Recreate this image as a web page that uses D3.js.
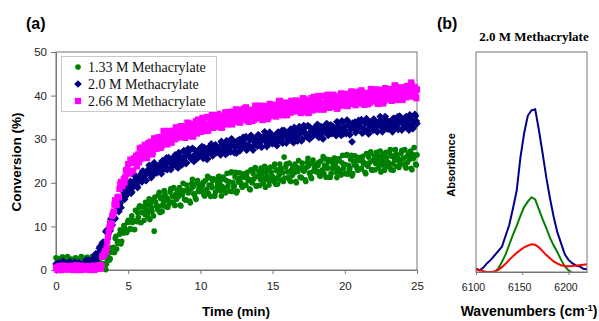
<!DOCTYPE html>
<html>
<head>
<meta charset="utf-8">
<script src="https://cdn.jsdelivr.net/npm/d3@7"></script>
<style>
  body { margin: 0; background: #fff; }
  svg { display: block; font-family: 'Liberation Sans', Arial, sans-serif; }
</style>
</head>
<body>
<div id="chart"></div>
<script>
// panel (a): conversion vs time, one reading every 0.1 min from 0 to 25 min
const timeStep = 0.1;
const conv133 = [
  2.8, 1.3, 0.9, 2.1, 2.5, 1.7, 0.7, 2.3, 3.1, 1.2,
  1.0, 2.1, 1.8, 0.5, 2.7, 2.3, 1.5, 0.8, 2.9, 1.9,
  2.4, 1.6, 2.6, 1.0, 1.4, 3.1, 2.1, 0.8, 1.7, 2.7,
  0.5, 1.6, 0.9, 1.4, 0.3, 1.4, 3.0, 2.3, 4.1, 4.2,
  5.2, 7.3, 4.8, 6.1, 8.2, 6.0, 8.8, 10.2, 9.0, 8.6,
  11.4, 9.3, 11.4, 10.9, 9.3, 13.7, 11.1, 12.1, 14.7, 10.9,
  13.3, 11.4, 15.5, 14.9, 13.2, 11.6, 14.3, 16.1, 8.9, 15.6,
  14.7, 17.2, 13.2, 14.7, 16.7, 18.2, 14.5, 16.4, 15.8, 17.9,
  18.6, 15.6, 14.9, 17.4, 18.3, 16.9, 14.9, 18.2, 19.9, 16.2,
  16.1, 18.4, 17.8, 15.4, 19.8, 19.1, 17.5, 16.2, 20.5, 18.7,
  19.6, 18.2, 20.1, 17.0, 18.0, 21.5, 19.5, 16.9, 18.9, 20.9,
  17.0, 20.7, 19.7, 21.5, 18.2, 19.2, 21.3, 18.2, 20.5, 19.2,
  20.2, 22.3, 18.0, 19.1, 21.4, 17.7, 20.9, 22.3, 20.0, 19.0,
  22.0, 19.4, 21.4, 20.6, 18.6, 23.0, 20.0, 20.9, 23.5, 19.2,
  21.5, 19.4, 23.4, 22.6, 20.7, 19.0, 21.5, 23.2, 20.5, 22.4,
  21.4, 23.7, 19.7, 21.0, 23.0, 24.3, 20.6, 22.3, 25.9, 23.6,
  24.3, 21.2, 20.5, 22.9, 23.8, 22.3, 20.3, 23.5, 25.1, 21.3,
  21.2, 23.4, 22.8, 20.3, 24.7, 23.9, 22.3, 21.0, 25.2, 23.4,
  24.2, 22.7, 24.7, 21.5, 22.5, 26.0, 24.0, 21.3, 23.3, 25.3,
  21.3, 24.9, 24.0, 25.7, 22.4, 23.4, 25.5, 22.3, 24.6, 23.3,
  24.2, 26.3, 22.0, 23.0, 25.4, 21.6, 24.9, 26.2, 23.9, 22.9,
  25.8, 23.2, 25.2, 24.3, 22.4, 26.7, 23.8, 24.6, 27.1, 22.9,
  25.1, 23.0, 27.0, 26.1, 24.2, 22.5, 25.0, 26.6, 23.9, 25.8,
  24.7, 27.0, 23.0, 24.3, 26.2, 27.6, 23.8, 25.5, 24.9, 26.8,
  27.4, 24.3, 23.6, 26.0, 26.8, 25.4, 23.3, 26.5, 28.1, 24.3,
  26.4
];
const conv20 = [
  1.4, 0.9, 1.6, 0.4, 0.7, 2.0, 1.2, 0.3, 1.0, 1.7,
  0.2, 1.5, 1.2, 1.8, 0.6, 0.9, 1.6, 0.5, 1.3, 0.8,
  1.3, 2.3, 0.6, 1.1, 2.1, 0.6, 2.3, 3.3, 2.9, 2.9,
  5.0, 4.4, 6.2, 6.4, 6.2, 9.1, 8.4, 9.6, 11.7, 10.3,
  12.2, 11.8, 14.8, 15.0, 14.7, 14.3, 16.4, 17.9, 16.8, 18.4,
  18.1, 20.0, 17.6, 18.9, 20.4, 21.5, 19.4, 20.8, 20.5, 22.1,
  22.7, 20.9, 20.6, 22.4, 23.1, 22.3, 21.2, 23.4, 24.6, 22.3,
  22.3, 23.9, 23.6, 22.1, 25.1, 24.6, 23.6, 23.0, 25.8, 24.7,
  25.4, 24.5, 25.9, 23.9, 24.6, 26.9, 25.8, 24.1, 25.5, 26.9,
  24.4, 26.8, 26.3, 27.5, 25.4, 26.1, 27.5, 25.4, 27.0, 26.2,
  26.9, 28.3, 25.6, 26.3, 27.8, 25.5, 27.7, 28.5, 27.1, 26.5,
  28.5, 26.9, 28.1, 27.6, 26.4, 29.2, 27.4, 28.0, 29.6, 26.9,
  28.5, 27.1, 29.9, 29.3, 28.1, 26.8, 28.7, 29.9, 27.9, 29.4,
  28.7, 30.3, 27.5, 28.5, 29.9, 30.9, 28.2, 29.5, 29.1, 30.5,
  31.0, 28.9, 28.3, 30.1, 30.7, 29.7, 28.3, 30.6, 31.6, 29.1,
  29.0, 30.7, 30.2, 28.5, 31.6, 31.1, 30.0, 29.1, 32.0, 30.8,
  31.5, 30.5, 31.9, 29.7, 30.3, 32.7, 31.4, 29.6, 31.0, 32.4,
  29.6, 32.3, 31.6, 32.9, 30.5, 31.3, 32.7, 30.5, 32.2, 31.3,
  31.9, 33.4, 30.4, 31.1, 32.8, 30.1, 32.5, 33.4, 31.8, 31.1,
  33.2, 31.3, 32.8, 32.1, 30.8, 33.9, 31.7, 32.4, 34.2, 31.2,
  32.8, 31.3, 34.2, 33.5, 32.2, 29.4, 32.8, 33.9, 32.0, 33.4,
  32.6, 34.2, 31.4, 32.3, 33.7, 34.7, 32.0, 33.2, 32.8, 34.2,
  34.6, 32.4, 31.9, 33.6, 34.2, 33.2, 31.7, 34.0, 35.2, 32.5,
  32.3, 33.9, 33.5, 31.7, 34.8, 34.3, 33.1, 32.2, 35.3, 33.9,
  34.5, 33.4, 34.9, 32.6, 33.2, 35.6, 34.3, 32.4, 33.9, 35.3,
  33.6
];
const conv266 = [
  0.4, 0.0, 0.8, 0.2, 0.6, 1.0, 0.1, 0.5, 0.3, 0.9,
  0.2, 0.7, 0.0, 0.5, 1.1, 0.3, 0.6, 0.0, 0.8, 0.4,
  0.1, 0.9, 0.3, 0.6, 0.0, 0.7, 1.0, 0.2, 0.5, 0.8,
  0.7, 0.3, 3.0, 3.5, 4.3, 5.0, 7.6, 9.7, 10.0, 12.4,
  13.4, 16.0, 14.9, 16.6, 18.6, 20.2, 19.3, 20.9, 21.3, 23.0,
  24.3, 22.6, 22.5, 24.6, 25.6, 24.9, 23.8, 26.5, 27.9, 25.6,
  25.7, 27.5, 27.3, 25.7, 29.1, 28.7, 27.7, 27.0, 30.2, 29.0,
  29.8, 28.9, 30.5, 28.4, 29.2, 31.9, 30.5, 28.8, 30.3, 31.9,
  29.2, 31.9, 31.3, 32.7, 30.4, 31.2, 32.7, 30.5, 32.4, 31.5,
  32.2, 33.8, 30.8, 31.6, 33.3, 30.7, 33.1, 34.1, 32.6, 31.9,
  34.1, 32.3, 33.8, 33.2, 31.9, 35.1, 33.0, 33.7, 35.6, 32.6,
  34.3, 32.9, 35.8, 35.1, 33.9, 32.7, 34.6, 35.8, 33.8, 35.3,
  34.6, 36.3, 33.4, 34.4, 35.9, 36.8, 34.2, 35.5, 35.0, 36.5,
  37.0, 34.8, 34.3, 36.0, 36.7, 35.6, 34.2, 36.5, 37.7, 35.0,
  34.9, 36.6, 36.1, 34.4, 37.5, 37.0, 35.9, 35.0, 38.1, 36.7,
  37.4, 36.4, 37.8, 35.6, 36.2, 38.8, 37.3, 35.5, 36.9, 38.4,
  35.5, 38.2, 37.5, 38.8, 36.4, 37.2, 38.6, 36.4, 38.1, 37.2,
  37.8, 39.4, 36.3, 37.1, 38.7, 36.1, 38.4, 39.4, 37.8, 37.1,
  39.2, 37.3, 38.8, 38.1, 36.8, 39.9, 37.8, 38.4, 40.2, 37.2,
  38.8, 37.4, 40.2, 39.6, 38.3, 37.1, 38.9, 40.1, 38.1, 39.6,
  38.8, 40.4, 37.6, 38.5, 40.0, 40.9, 38.2, 39.5, 39.0, 40.5,
  40.9, 38.7, 38.2, 39.9, 40.6, 39.5, 38.0, 40.4, 41.5, 38.9,
  38.7, 40.3, 39.9, 38.1, 41.3, 40.7, 39.5, 38.7, 41.7, 40.4,
  41.0, 39.9, 41.4, 39.1, 39.8, 42.3, 40.8, 39.0, 40.4, 41.9,
  39.0, 41.6, 41.0, 42.2, 39.9, 40.6, 43.0, 39.8, 41.5, 40.6,
  41.4
];
// readings taken half a step later (0.05, 0.15, ... 24.95 min)
const conv133Mid = [
  1.5, 2.6, 0.9, 2.0, 3.0, 1.2, 2.4, 1.7, 0.7, 2.2,
  2.5, 1.1, 1.9, 2.8, 0.6, 2.2, 1.4, 3.1, 1.8, 1.0,
  1.9, 2.9, 1.3, 0.8, 2.5, 1.6, 2.0, 2.7, 1.2, 2.3,
  0.7, 0.8, 1.4, 1.0, 0.1, 2.4, 2.3, 2.6, 5.1, 4.8,
  4.0, 7.7, 6.5, 6.5, 9.2, 6.6, 8.5, 9.6, 8.6, 10.9,
  11.0, 9.5, 12.4, 11.3, 9.3, 11.3, 13.2, 14.4, 10.9, 13.2,
  14.5, 12.8, 13.8, 12.3, 16.3, 15.2, 13.5, 12.4, 16.7, 14.6,
  13.8, 17.8, 16.4, 13.4, 15.6, 17.3, 16.6, 14.4, 15.3, 18.6,
  16.9, 18.9, 14.8, 16.2, 18.0, 18.9, 14.7, 17.3, 18.2, 16.1,
  19.5, 17.7, 15.8, 18.6, 20.8, 17.4, 16.5, 19.8, 18.0, 19.6,
  18.0, 19.4, 17.2, 20.5, 18.5, 17.6, 21.1, 19.4, 20.5, 17.0,
  17.9, 19.0, 21.4, 20.2, 17.0, 20.9, 18.7, 17.7, 22.2, 20.2,
  18.1, 22.5, 20.1, 19.3, 22.4, 18.1, 20.2, 21.1, 19.3, 22.0,
  21.3, 19.5, 22.4, 20.8, 18.4, 20.2, 22.2, 23.2, 19.3, 21.5,
  22.6, 20.8, 21.6, 19.9, 23.8, 22.5, 20.7, 19.5, 23.6, 21.4,
  20.4, 24.3, 22.8, 19.7, 21.8, 23.4, 22.6, 20.3, 21.1, 24.3,
  22.5, 24.5, 20.3, 21.7, 23.4, 24.3, 20.0, 22.6, 23.3, 21.2,
  24.5, 22.7, 20.7, 23.5, 25.6, 22.2, 21.3, 24.5, 22.7, 24.2,
  22.5, 24.0, 21.7, 25.0, 23.0, 22.1, 25.5, 23.8, 24.9, 21.3,
  22.1, 23.3, 25.6, 24.4, 21.2, 25.1, 22.8, 21.8, 26.3, 24.2,
  22.1, 26.5, 24.0, 23.3, 26.3, 22.1, 24.1, 25.0, 23.2, 25.8,
  25.1, 23.3, 26.1, 24.6, 22.1, 24.0, 25.9, 26.8, 23.0, 25.1,
  26.2, 24.4, 25.1, 23.4, 27.3, 26.0, 24.1, 22.9, 27.0, 24.7,
  23.7, 27.6, 26.1, 22.9, 25.1, 26.6, 25.8, 23.5, 24.3, 27.4,
  25.6, 27.6, 23.4, 24.7, 26.5, 27.3, 23.0, 25.6, 26.3, 24.1
];
const conv20Mid = [
  0.6, 1.5, 1.1, 0.3, 1.8, 0.9, 0.5, 1.4, 0.7, 1.9,
  1.2, 0.4, 1.7, 1.0, 0.5, 1.6, 0.8, 1.3, 0.2, 1.1,
  1.6, 0.9, 2.2, 1.7, 0.7, 1.6, 2.8, 3.7, 2.5, 4.0,
  5.4, 5.2, 6.3, 6.2, 8.8, 9.0, 8.8, 9.0, 11.8, 11.5,
  11.7, 14.6, 14.5, 13.4, 15.3, 16.8, 16.9, 16.2, 17.1, 19.3,
  18.7, 20.3, 17.9, 19.1, 20.5, 21.4, 18.9, 20.7, 21.5, 20.2,
  22.6, 21.6, 20.5, 22.5, 24.0, 22.0, 21.6, 23.9, 22.8, 23.9,
  23.0, 24.1, 22.6, 25.0, 23.8, 23.2, 25.7, 24.7, 25.5, 23.0,
  23.8, 24.7, 26.4, 25.6, 23.4, 26.2, 24.8, 24.2, 27.4, 26.0,
  24.6, 27.8, 26.1, 25.6, 27.9, 24.9, 26.3, 27.1, 25.8, 27.8,
  27.4, 26.1, 28.1, 27.1, 25.4, 26.8, 28.1, 28.9, 26.2, 27.8,
  28.7, 27.3, 27.9, 26.8, 29.5, 28.7, 27.4, 26.5, 29.5, 28.0,
  27.4, 30.1, 29.1, 26.9, 28.4, 29.6, 29.1, 27.4, 28.1, 30.4,
  29.1, 30.6, 27.7, 28.6, 29.9, 30.5, 27.5, 29.4, 29.9, 28.4,
  30.9, 29.5, 28.2, 30.1, 31.7, 29.3, 28.7, 31.1, 29.7, 30.9,
  29.8, 30.8, 29.2, 31.5, 30.2, 29.6, 32.0, 30.9, 31.6, 29.1,
  29.8, 30.6, 32.3, 31.4, 29.2, 31.9, 30.4, 29.7, 32.9, 31.4,
  30.0, 33.1, 31.4, 30.8, 33.1, 30.0, 31.5, 32.2, 30.9, 32.8,
  32.3, 31.0, 33.0, 32.0, 30.2, 31.6, 32.9, 33.6, 30.9, 32.4,
  33.2, 31.9, 32.4, 31.3, 34.0, 33.1, 31.8, 30.9, 33.9, 32.3,
  31.6, 34.4, 33.3, 31.0, 32.6, 33.7, 33.1, 31.5, 32.1, 34.3,
  33.0, 34.5, 31.5, 32.4, 33.7, 34.3, 31.2, 33.1, 33.6, 32.0,
  34.4, 33.1, 31.7, 33.6, 35.2, 32.7, 32.1, 34.5, 33.1, 34.2,
  33.0, 34.1, 32.4, 34.7, 33.4, 32.7, 35.1, 34.0, 34.7, 32.1,
  32.7, 33.6, 35.2, 34.3, 32.1, 34.8, 33.2, 32.6, 35.7, 34.2
];
const conv266Mid = [
  0.6, 0.2, 0.9, 0.0, 0.4, 0.7, 0.3, 0.8, 0.1, 0.5,
  0.9, 0.1, 0.6, 0.3, 0.8, 0.0, 0.4, 1.0, 0.2, 0.7,
  0.5, 0.3, 0.8, 0.1, 0.6, 0.4, 0.0, 0.9, 0.3, 0.7,
  1.1, 1.0, 3.2, 3.8, 4.2, 6.5, 8.7, 10.7, 10.5, 12.9,
  15.0, 15.3, 16.6, 16.8, 19.7, 20.1, 20.0, 20.1, 22.8, 22.4,
  22.1, 25.3, 24.7, 22.8, 24.7, 26.2, 26.0, 24.7, 25.6, 28.1,
  27.1, 28.7, 26.0, 27.1, 28.6, 29.4, 26.5, 28.5, 29.2, 27.8,
  30.4, 29.2, 28.0, 30.1, 31.8, 29.4, 29.0, 31.4, 30.2, 31.5,
  30.4, 31.5, 30.0, 32.4, 31.1, 30.5, 33.0, 32.0, 32.8, 30.3,
  31.0, 31.9, 33.6, 32.8, 30.6, 33.4, 31.9, 31.3, 34.5, 33.1,
  31.7, 34.9, 33.2, 32.7, 35.0, 32.0, 33.5, 34.3, 33.6, 35.0,
  34.6, 33.3, 35.4, 34.3, 32.6, 34.0, 35.4, 36.2, 33.4, 35.0,
  35.9, 34.6, 35.1, 34.0, 36.8, 35.9, 34.6, 33.8, 36.7, 35.2,
  34.6, 37.3, 36.3, 34.0, 35.6, 36.7, 36.2, 34.5, 35.2, 37.4,
  36.2, 37.7, 34.7, 35.7, 36.9, 37.6, 34.6, 36.4, 37.0, 35.4,
  37.9, 36.6, 35.2, 37.2, 38.7, 36.3, 35.7, 38.1, 36.7, 37.9,
  36.7, 37.8, 36.1, 38.5, 37.1, 36.5, 38.9, 37.8, 38.5, 36.0,
  36.6, 37.5, 39.1, 38.3, 36.0, 38.8, 37.2, 36.6, 39.7, 38.3,
  36.8, 39.9, 38.2, 37.6, 39.9, 36.8, 38.3, 39.0, 37.6, 39.6,
  39.1, 37.8, 39.8, 38.8, 37.0, 38.4, 39.7, 40.5, 37.7, 39.3,
  40.1, 38.7, 39.3, 38.1, 40.9, 40.0, 38.6, 37.8, 40.7, 39.2,
  38.5, 41.2, 40.2, 37.9, 39.5, 40.6, 40.0, 38.4, 39.0, 41.3,
  40.0, 41.4, 38.5, 39.4, 40.7, 41.3, 38.2, 40.1, 40.6, 39.1,
  41.5, 40.1, 38.8, 40.7, 42.3, 39.8, 39.2, 41.6, 40.2, 41.4,
  40.2, 41.2, 39.6, 41.9, 40.6, 39.9, 42.3, 41.2, 41.9, 39.4
];
const seriesNames = ['1.33 M Methacrylate', '2.0 M Methacrylate', '2.66 M Methacrylate'];
const timeTicks = [0, 5, 10, 15, 20, 25];
const convTicks = [0, 10, 20, 30, 40, 50];

// panel (b): spectra of 2.0 M methacrylate
const wavenumbers = [6100, 6104, 6108, 6112, 6116, 6120, 6124, 6128, 6132, 6136, 6140,
  6144, 6148, 6152, 6156, 6160, 6164, 6168, 6172, 6176, 6180,
  6184, 6188, 6192, 6196, 6200, 6204, 6208, 6212, 6216, 6220];
const absBlue = [0.015, 0.008, 0.02, 0.04, 0.055, 0.075, 0.095, 0.115, 0.165, 0.215, 0.29,
  0.37, 0.52, 0.63, 0.71, 0.735, 0.74, 0.645, 0.54, 0.43, 0.335,
  0.25, 0.18, 0.13, 0.08, 0.055, 0.04, 0.03, 0.025, 0.015, 0.012];
const absGreen = [-0.03, -0.03, -0.025, -0.02, -0.01, 0.0, 0.015, 0.045, 0.08, 0.125, 0.17,
  0.21, 0.255, 0.295, 0.32, 0.34, 0.33, 0.285, 0.24, 0.2, 0.155,
  0.12, 0.09, 0.055, 0.025, 0.008, -0.005, -0.02, -0.03, -0.035, -0.04];
const absRed = [0.012, 0.008, 0.004, 0.0, 0.0, 0.002, 0.01, 0.022, 0.037, 0.055, 0.072,
  0.087, 0.1, 0.112, 0.12, 0.126, 0.124, 0.112, 0.095, 0.077, 0.062,
  0.048, 0.038, 0.031, 0.027, 0.026, 0.027, 0.029, 0.031, 0.033, 0.035];
const waveTicks = [6100, 6150, 6200];

const svg = d3.select('#chart').append('svg').attr('width', 599).attr('height', 321);

// ---------- panel (a) ----------
const x = d3.scaleLinear().domain([0, 25]).range([56, 417]);
const y = d3.scaleLinear().domain([0, 50]).range([270, 52]);

const xAxis = svg.append('g')
  .attr('transform', 'translate(0,270)')
  .call(d3.axisBottom(x).tickValues(timeTicks).tickSize(4).tickSizeOuter(0).tickPadding(8));
const yAxis = svg.append('g')
  .attr('transform', 'translate(56,0)')
  .call(d3.axisLeft(y).tickValues(convTicks).tickSize(5).tickSizeOuter(0).tickPadding(4));
[xAxis, yAxis].forEach((a) => {
  a.selectAll('path, line').attr('stroke', '#777');
  a.selectAll('text').attr('fill', '#222').style('font-size', '11.5px')
    .style('font-family', "'Liberation Sans', Arial, sans-serif");
});

svg.append('rect')
  .attr('x', 56).attr('y', 52).attr('width', 361).attr('height', 218)
  .attr('fill', 'none').attr('stroke', '#777').attr('stroke-width', 1);

const styles = [
  { color: '#008000', shape: d3.symbol().type(d3.symbolCircle).size(25), rotate: 0 },
  { color: '#000080', shape: d3.symbol().type(d3.symbolSquare).size(30), rotate: 45 },
  { color: '#ff00ff', shape: d3.symbol().type(d3.symbolSquare).size(40), rotate: 0 },
];
const allSeries = [[conv133, conv133Mid], [conv20, conv20Mid], [conv266, conv266Mid]];

allSeries.forEach(([values, mids], s) => {
  const pts = values.map((v, i) => [i * timeStep, v])
    .concat(mids.map((v, i) => [(i + 0.5) * timeStep, v]));
  svg.append('g')
    .selectAll('path')
    .data(pts)
    .enter()
    .append('path')
    .attr('d', styles[s].shape)
    .attr('transform', (d) => `translate(${x(d[0])},${y(d[1])}) rotate(${styles[s].rotate})`)
    .attr('fill', styles[s].color);
});

// legend
const legend = svg.append('g');
legend.append('rect')
  .attr('x', 61.5).attr('y', 56.5).attr('width', 155).attr('height', 55)
  .attr('fill', '#fff').attr('stroke', '#c8c8c8');
seriesNames.forEach((name, s) => {
  const ly = 67 + s * 17;
  legend.append('path')
    .attr('d', styles[s].shape)
    .attr('transform', `translate(78,${ly}) rotate(${styles[s].rotate})`)
    .attr('fill', styles[s].color);
  legend.append('text')
    .attr('x', 88).attr('y', ly + 5)
    .style('font-family', "'Liberation Serif', 'Times New Roman', serif")
    .style('font-size', '14px')
    .attr('fill', '#111')
    .text(name);
});

svg.append('text')
  .attr('x', 236).attr('y', 316).attr('text-anchor', 'middle')
  .style('font-weight', 'bold').style('font-size', '13.5px')
  .text('Time (min)');
svg.append('text')
  .attr('transform', 'translate(21,162) rotate(-90)')
  .attr('text-anchor', 'middle')
  .style('font-weight', 'bold').style('font-size', '13.5px')
  .text('Conversion (%)');
svg.append('text')
  .attr('x', 26).attr('y', 29)
  .style('font-weight', 'bold').style('font-size', '16px')
  .text('(a)');

// ---------- panel (b) ----------
const x2 = d3.scaleLinear().domain([6100, 6220]).range([476, 587]);
const y2 = d3.scaleLinear().domain([0, 1]).range([272, 52]);

svg.append('clipPath').attr('id', 'clipB')
  .append('rect').attr('x', 476).attr('y', 52).attr('width', 111).attr('height', 220);

const xAxis2 = svg.append('g')
  .attr('transform', 'translate(0,272)')
  .call(d3.axisBottom(x2).tickValues(waveTicks).tickFormat(d3.format('d'))
    .tickSize(3).tickSizeOuter(0).tickPadding(9));
xAxis2.selectAll('path, line').attr('stroke', '#777');
xAxis2.selectAll('text').attr('fill', '#222').attr('dx', '-3')
  .style('font-size', '10.5px')
  .style('font-family', "'Liberation Sans', Arial, sans-serif");

const line = d3.line()
  .x((d) => x2(d[0]))
  .y((d) => y2(d[1]));

const spectra = [
  { values: absBlue, color: '#00008b' },
  { values: absGreen, color: '#008000' },
  { values: absRed, color: '#ff0000' },
];
const specG = svg.append('g').attr('clip-path', 'url(#clipB)');
spectra.forEach((sp) => {
  specG.append('path')
    .datum(wavenumbers.map((w, i) => [w, sp.values[i]]))
    .attr('d', line)
    .attr('fill', 'none')
    .attr('stroke', sp.color)
    .attr('stroke-width', 2);
});

svg.append('rect')
  .attr('x', 476).attr('y', 52).attr('width', 111).attr('height', 220)
  .attr('fill', 'none').attr('stroke', '#777');

svg.append('text')
  .attr('x', 534).attr('y', 41).attr('text-anchor', 'middle')
  .style('font-family', "'Liberation Serif', 'Times New Roman', serif")
  .style('font-weight', 'bold').style('font-size', '13px')
  .text('2.0 M Methacrylate');
svg.append('text')
  .attr('transform', 'translate(455,165) rotate(-90)')
  .attr('text-anchor', 'middle')
  .style('font-weight', 'bold').style('font-size', '11px')
  .text('Absorbance');
const wl = svg.append('text')
  .attr('x', 529).attr('y', 316).attr('text-anchor', 'middle')
  .style('font-weight', 'bold').style('font-size', '14px');
wl.append('tspan').text('Wavenumbers (cm');
wl.append('tspan').attr('dy', -5).style('font-size', '9px').text('-1');
wl.append('tspan').attr('dy', 5).text(')');
svg.append('text')
  .attr('x', 437).attr('y', 29)
  .style('font-weight', 'bold').style('font-size', '16px')
  .text('(b)');
</script>
</body>
</html>
